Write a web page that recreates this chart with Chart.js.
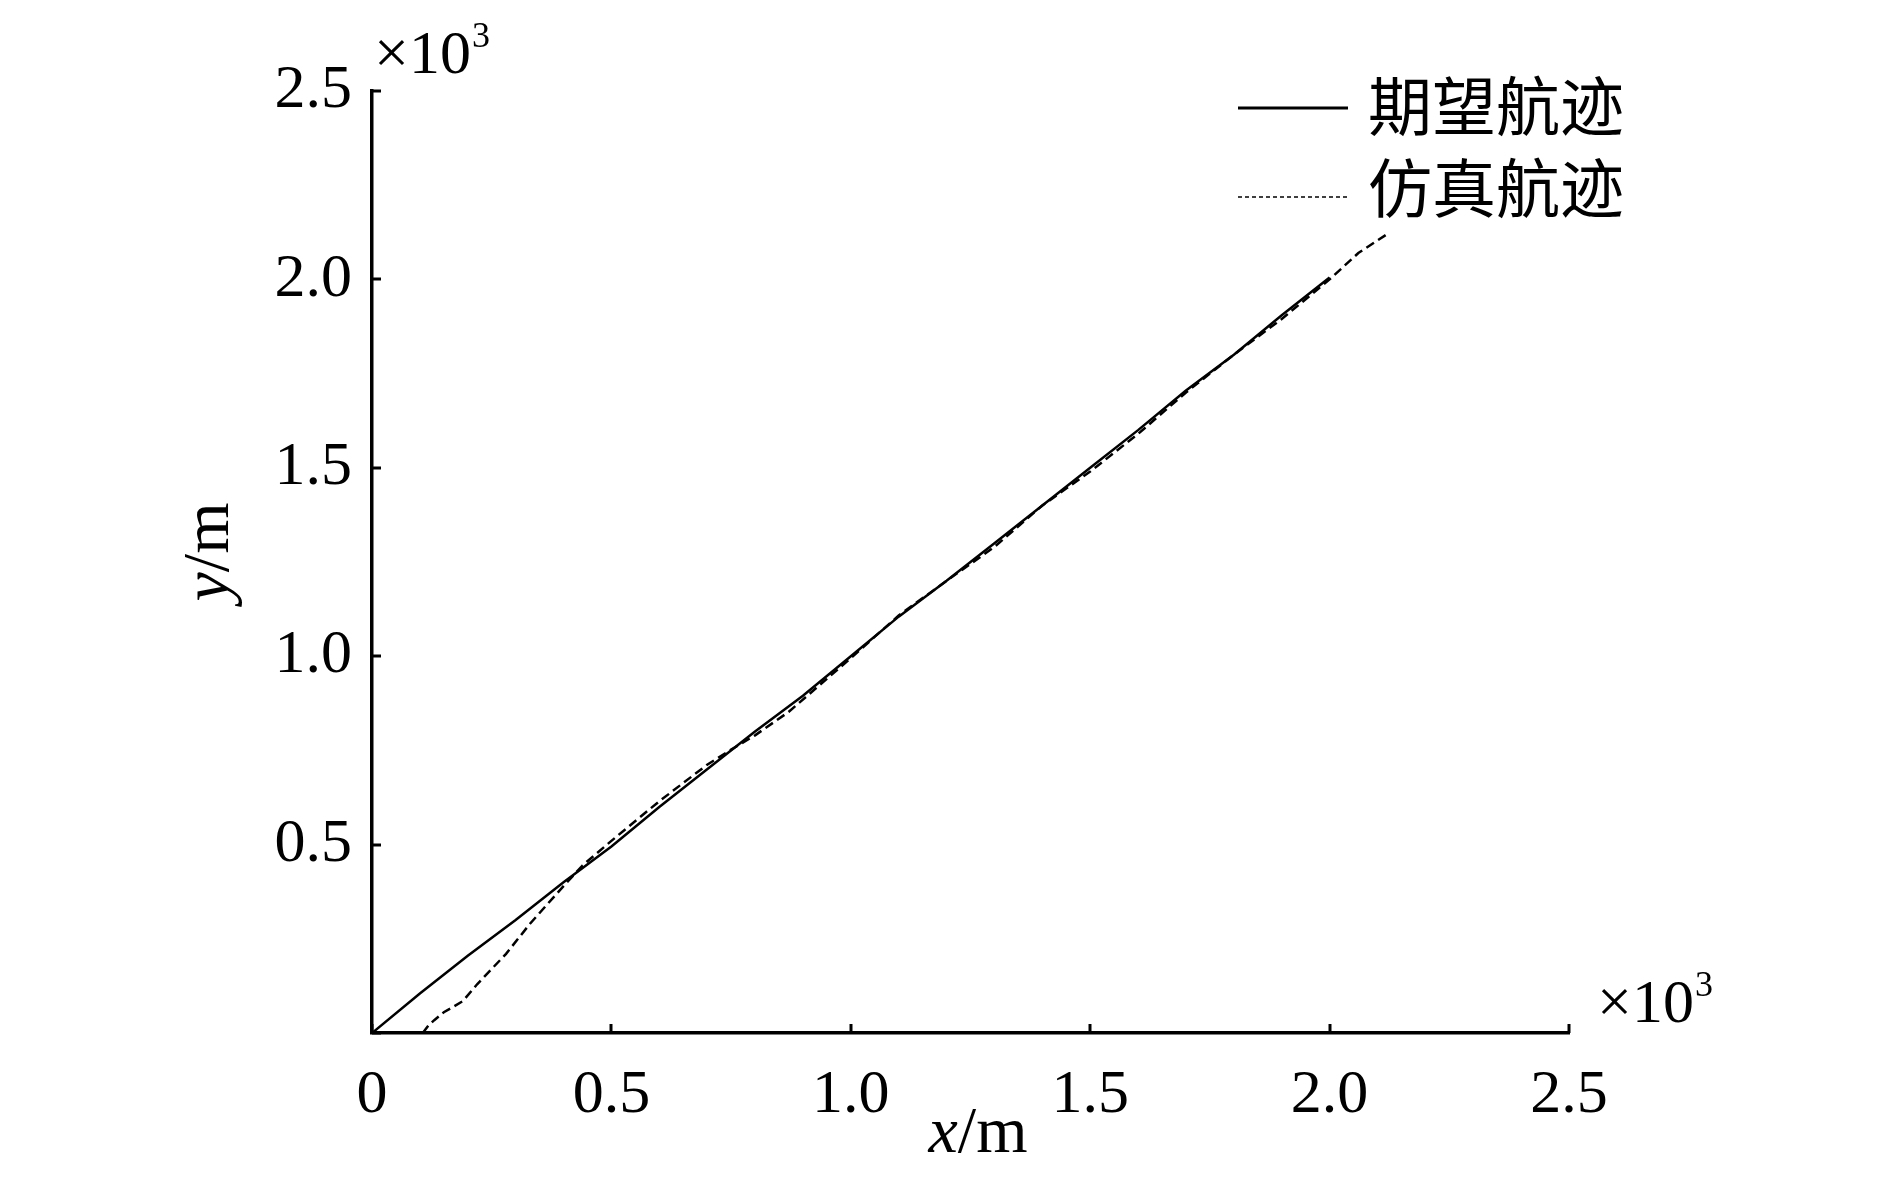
<!DOCTYPE html>
<html>
<head>
<meta charset="utf-8">
<script src="https://cdn.jsdelivr.net/npm/chart.js@4"></script>
<style>
  html, body { margin: 0; padding: 0; background: #fff; }
  #wrap { width: 1890px; height: 1181px; position: relative; }
</style>
</head>
<body>
<div id="wrap"><canvas id="chart" width="1890" height="1181"></canvas></div>
<script>
// values in units of 10^3 m
var desX = [0, 0.1, 0.2, 0.3, 0.4, 0.5, 0.6, 0.7, 0.8, 0.9, 1.0, 1.1, 1.2, 1.3, 1.4, 1.5, 1.6, 1.7, 1.8, 1.9, 2.0];
var desY = [0, 0.105, 0.205, 0.3, 0.4, 0.495, 0.6, 0.7, 0.8, 0.895, 1.0, 1.105, 1.2, 1.3, 1.4, 1.5, 1.6, 1.705, 1.8, 1.905, 2.005];

var simX = [0.106, 0.118, 0.13, 0.15, 0.165, 0.19, 0.22, 0.28, 0.33, 0.40, 0.44, 0.5, 0.6, 0.7, 0.75, 0.8, 0.87, 0.95, 1.0, 1.1, 1.2, 1.3, 1.4, 1.5, 1.6, 1.7, 1.8, 1.9, 2.0, 2.06, 2.12];
var simY = [0, 0.02, 0.034, 0.055, 0.066, 0.085, 0.13, 0.21, 0.29, 0.39, 0.445, 0.51, 0.615, 0.712, 0.752, 0.79, 0.852, 0.94, 0.995, 1.108, 1.2, 1.29, 1.4, 1.49, 1.59, 1.7, 1.8, 1.895, 2.0, 2.07, 2.12];

var xTicks = [0, 0.5, 1.0, 1.5, 2.0, 2.5];
var yTicks = [0, 0.5, 1.0, 1.5, 2.0, 2.5];
var legendNames = ['期望航迹', '仿真航迹'];

var SERIF = '"Liberation Serif", "Times New Roman", serif';
var CJK = '"Noto Sans CJK SC", sans-serif';

function pts(xs, ys) {
	return xs.map(function (x, i) { return { x: x, y: ys[i] }; });
}

// extra drawing: inward ticks, axis titles, ×10³ marks, legend
var decor = {
	id: 'decor',
	afterDraw: function (chart) {
		var c = chart.ctx;
		var a = chart.chartArea;
		var sx = chart.scales.x, sy = chart.scales.y;
		c.save();
		c.strokeStyle = '#000';
		c.fillStyle = '#000';
		c.lineWidth = 3;
		xTicks.forEach(function (v) {
			var p = Math.round(sx.getPixelForValue(v));
			c.beginPath(); c.moveTo(p, a.bottom); c.lineTo(p, a.bottom - 9); c.stroke();
		});
		yTicks.forEach(function (v) {
			var p = Math.round(sy.getPixelForValue(v));
			c.beginPath(); c.moveTo(a.left, p); c.lineTo(a.left + 9, p); c.stroke();
		});

		// ×10³ marks
		function power(x, y) {
			c.textAlign = 'left';
			c.textBaseline = 'alphabetic';
			c.font = '62px ' + SERIF;
			c.fillText('×10', x, y);
			var w = c.measureText('×10').width;
			c.font = '36px ' + SERIF;
			c.fillText('3', x + w + 1, y - 26);
		}
		power(a.left + 2, 73);
		power(a.right + 28, 1022);

		// x title
		c.textBaseline = 'alphabetic';
		c.font = 'italic 66px ' + SERIF;
		var w1 = c.measureText('x').width;
		c.font = '66px ' + SERIF;
		var w2 = c.measureText('/m').width;
		var x0 = 978 - (w1 + w2) / 2;
		c.textAlign = 'left';
		c.font = 'italic 66px ' + SERIF;
		c.fillText('x', x0, 1152);
		c.font = '66px ' + SERIF;
		c.fillText('/m', x0 + w1, 1152);

		// y title (rotated)
		c.save();
		c.translate(228, 552);
		c.rotate(-Math.PI / 2);
		c.font = 'italic 66px ' + SERIF;
		w1 = c.measureText('y').width;
		c.font = '66px ' + SERIF;
		w2 = c.measureText('/m').width;
		x0 = -(w1 + w2) / 2;
		c.font = 'italic 66px ' + SERIF;
		c.fillText('y', x0, 0);
		c.font = '66px ' + SERIF;
		c.fillText('/m', x0 + w1, 0);
		c.restore();

		// legend
		c.lineWidth = 3;
		c.setLineDash([]);
		c.beginPath(); c.moveTo(1238, 108); c.lineTo(1348, 108); c.stroke();
		c.lineWidth = 1.5;
		c.setLineDash([4, 3]);
		c.beginPath(); c.moveTo(1238, 197); c.lineTo(1348, 197); c.stroke();
		c.setLineDash([]);
		c.font = '64px ' + CJK;
		c.textAlign = 'left';
		c.textBaseline = 'middle';
		c.fillText(legendNames[0], 1368, 106);
		c.fillText(legendNames[1], 1368, 188);
		c.restore();
	}
};

new Chart(document.getElementById('chart'), {
	type: 'scatter',
	data: {
		datasets: [
			{
				label: legendNames[0],
				data: pts(desX, desY),
				showLine: true,
				borderColor: '#000',
				borderWidth: 2.5,
				pointRadius: 0,
				tension: 0,
			},
			{
				label: legendNames[1],
				data: pts(simX, simY),
				showLine: true,
				borderColor: '#000',
				borderWidth: 2.5,
				borderDash: [9, 5],
				pointRadius: 0,
				tension: 0,
			},
		],
	},
	options: {
		responsive: false,
		animation: false,
		layout: { padding: { left: 0, top: 91, right: 321, bottom: 0 } },
		plugins: {
			legend: { display: false },
			tooltip: { enabled: false },
		},
		scales: {
			x: {
				type: 'linear',
				min: 0,
				max: 2.5,
				afterFit: function (s) { s.height = 148; },
				afterBuildTicks: function (s) { s.ticks = xTicks.map(function (v) { return { value: v }; }); },
				grid: { display: true, drawOnChartArea: false, drawTicks: false },
				border: { display: true, color: '#000', width: 3.5 },
				ticks: {
					padding: 26,
					color: '#000',
					maxRotation: 0,
					font: { family: SERIF, size: 62 },
					callback: function (v) { return v === 0 ? '0' : v.toFixed(1); },
				},
			},
			y: {
				type: 'linear',
				min: 0,
				max: 2.5,
				afterFit: function (s) { s.width = 372; },
				afterBuildTicks: function (s) { s.ticks = yTicks.map(function (v) { return { value: v }; }); },
				grid: { display: true, drawOnChartArea: false, drawTicks: false },
				border: { display: true, color: '#000', width: 3.5 },
				ticks: {
					padding: 20,
					color: '#000',
					font: { family: SERIF, size: 62 },
					callback: function (v) { return v === 0 ? '' : v.toFixed(1); },
				},
			},
		},
	},
	plugins: [decor],
});
</script>
</body>
</html>
